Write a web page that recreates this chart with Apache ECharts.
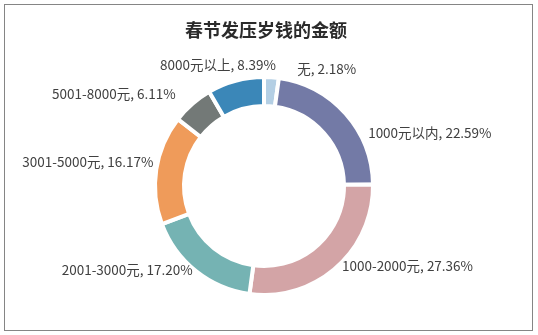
<!DOCTYPE html>
<html>
<head>
<meta charset="utf-8">
<script src="https://cdn.jsdelivr.net/npm/echarts@6/dist/echarts.min.js"></script>
<style>
html,body{margin:0;padding:0;background:#fff;}
#frame{position:absolute;left:4px;top:4px;width:529px;height:327px;border:1.5px solid #858585;box-sizing:border-box;}
#chart{position:absolute;left:0;top:0;width:538px;height:335px;}
</style>
</head>
<body>
<div id="frame"></div>
<div id="chart"></div>
<script>
const titleText = '春节发压岁钱的金额';
const categories = ['无', '1000元以内', '1000-2000元', '2001-3000元', '3001-5000元', '5001-8000元', '8000元以上'];
const values = [2.18, 22.59, 27.36, 17.20, 16.17, 6.11, 8.39];
const colors = ['#b4cfe4', '#737aa6', '#d3a4a6', '#75b3b3', '#ef9b5a', '#737977', '#3b87b8'];
// label nudges (style only), [dx, dy]
const labelNudge = [[20, 2], [10, 26], [-6, -9], [8, -9], [12, -6], [-5, -3], [48, -6]];

const chart = echarts.init(document.getElementById('chart'), null, {renderer: 'canvas'});
chart.setOption({
  animation: false,
  title: {
    text: titleText,
    left: 180,
    top: 16,
    textStyle: {fontFamily: 'Noto Sans CJK SC', fontWeight: 'bold', fontSize: 18, color: '#2b2b2b'}
  },
  series: [{
    type: 'pie',
    center: [264, 186],
    radius: [80, 109],
    startAngle: 90,
    clockwise: true,
    avoidLabelOverlap: false,
    itemStyle: {borderColor: '#fff', borderWidth: 4},
    label: {
      show: true,
      position: 'outside',
      formatter: p => p.name + ', ' + p.value.toFixed(2) + '%',
      fontFamily: 'Noto Sans CJK SC',
      fontSize: 13.5,
      color: '#404040'
    },
    labelLine: {show: false, length: 10, length2: 0},
    labelLayout: p => ({dx: labelNudge[p.dataIndex][0], dy: labelNudge[p.dataIndex][1]}),
    data: categories.map((c, i) => ({name: c, value: values[i], itemStyle: {color: colors[i]}}))
  }]
});
</script>
</body>
</html>
